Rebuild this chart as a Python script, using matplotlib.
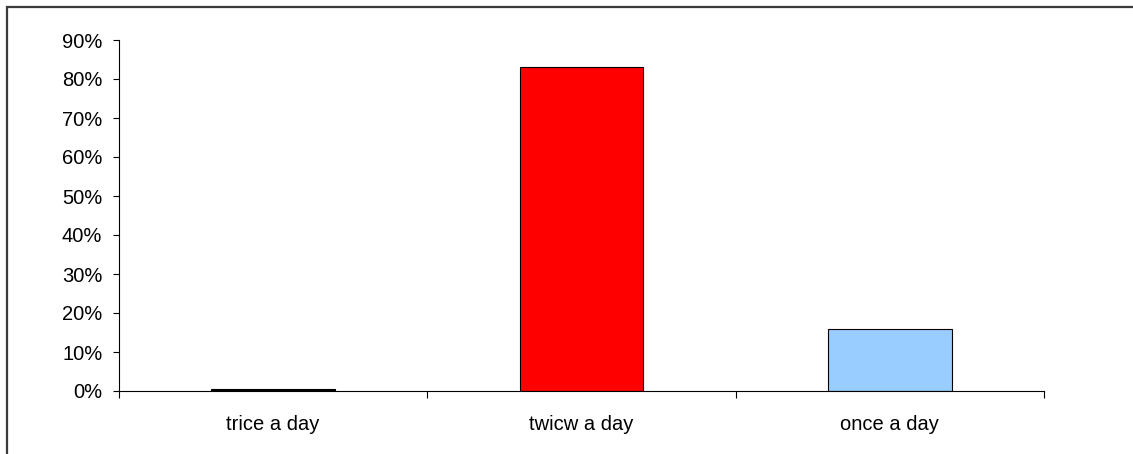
import matplotlib
matplotlib.use("Agg")
import matplotlib.pyplot as plt
from matplotlib.patches import Rectangle
from matplotlib.ticker import FuncFormatter, FixedLocator

categories = ["trice a day", "twicw a day", "once a day"]
shares = [0.005, 0.83, 0.16]
bar_colors = ["#000000", "#FF0000", "#99CCFF"]
y_ticks = [0.0, 0.1, 0.2, 0.3, 0.4, 0.5, 0.6, 0.7, 0.8, 0.9]

plt.rcParams["font.family"] = ["Liberation Sans", "DejaVu Sans"]

W, H = 1133, 454
fig = plt.figure(figsize=(W / 100, H / 100), dpi=100)
fig.patch.set_facecolor("white")

# chart-area border (open to the right and bottom edges)
fig.patches.append(Rectangle((7 / W, -0.05), 1.2, 1 - 7 / H + 0.05,
                             transform=fig.transFigure, fill=False,
                             edgecolor="#3a3a3a", linewidth=1.6))

ax = fig.add_axes([119 / W, (H - 391) / H, (1044 - 119) / W, (391 - 40) / H])
x = list(range(len(categories)))
ax.bar(x, shares, width=0.40, color=bar_colors, edgecolor="black", linewidth=0.8)

ax.set_xlim(-0.5, len(categories) - 0.5)
ax.set_ylim(0, 0.9)
ax.set_yticks(y_ticks)
ax.yaxis.set_major_formatter(FuncFormatter(lambda v, p: f"{v * 100:.0f}%"))

ax.set_xticks(x)
ax.set_xticklabels(categories)
ax.xaxis.set_minor_locator(FixedLocator([i - 0.5 for i in range(len(categories) + 1)]))
ax.tick_params(axis="x", which="major", length=0, pad=17.5, labelsize=14.5)
ax.tick_params(axis="x", which="minor", length=5, width=0.8, direction="out")
ax.tick_params(axis="y", length=4, width=0.8, direction="out", pad=8, labelsize=14.5)

for s in ("top", "right"):
    ax.spines[s].set_visible(False)
for s in ("left", "bottom"):
    ax.spines[s].set_linewidth(0.8)

fig.savefig("out.png", dpi=100)
